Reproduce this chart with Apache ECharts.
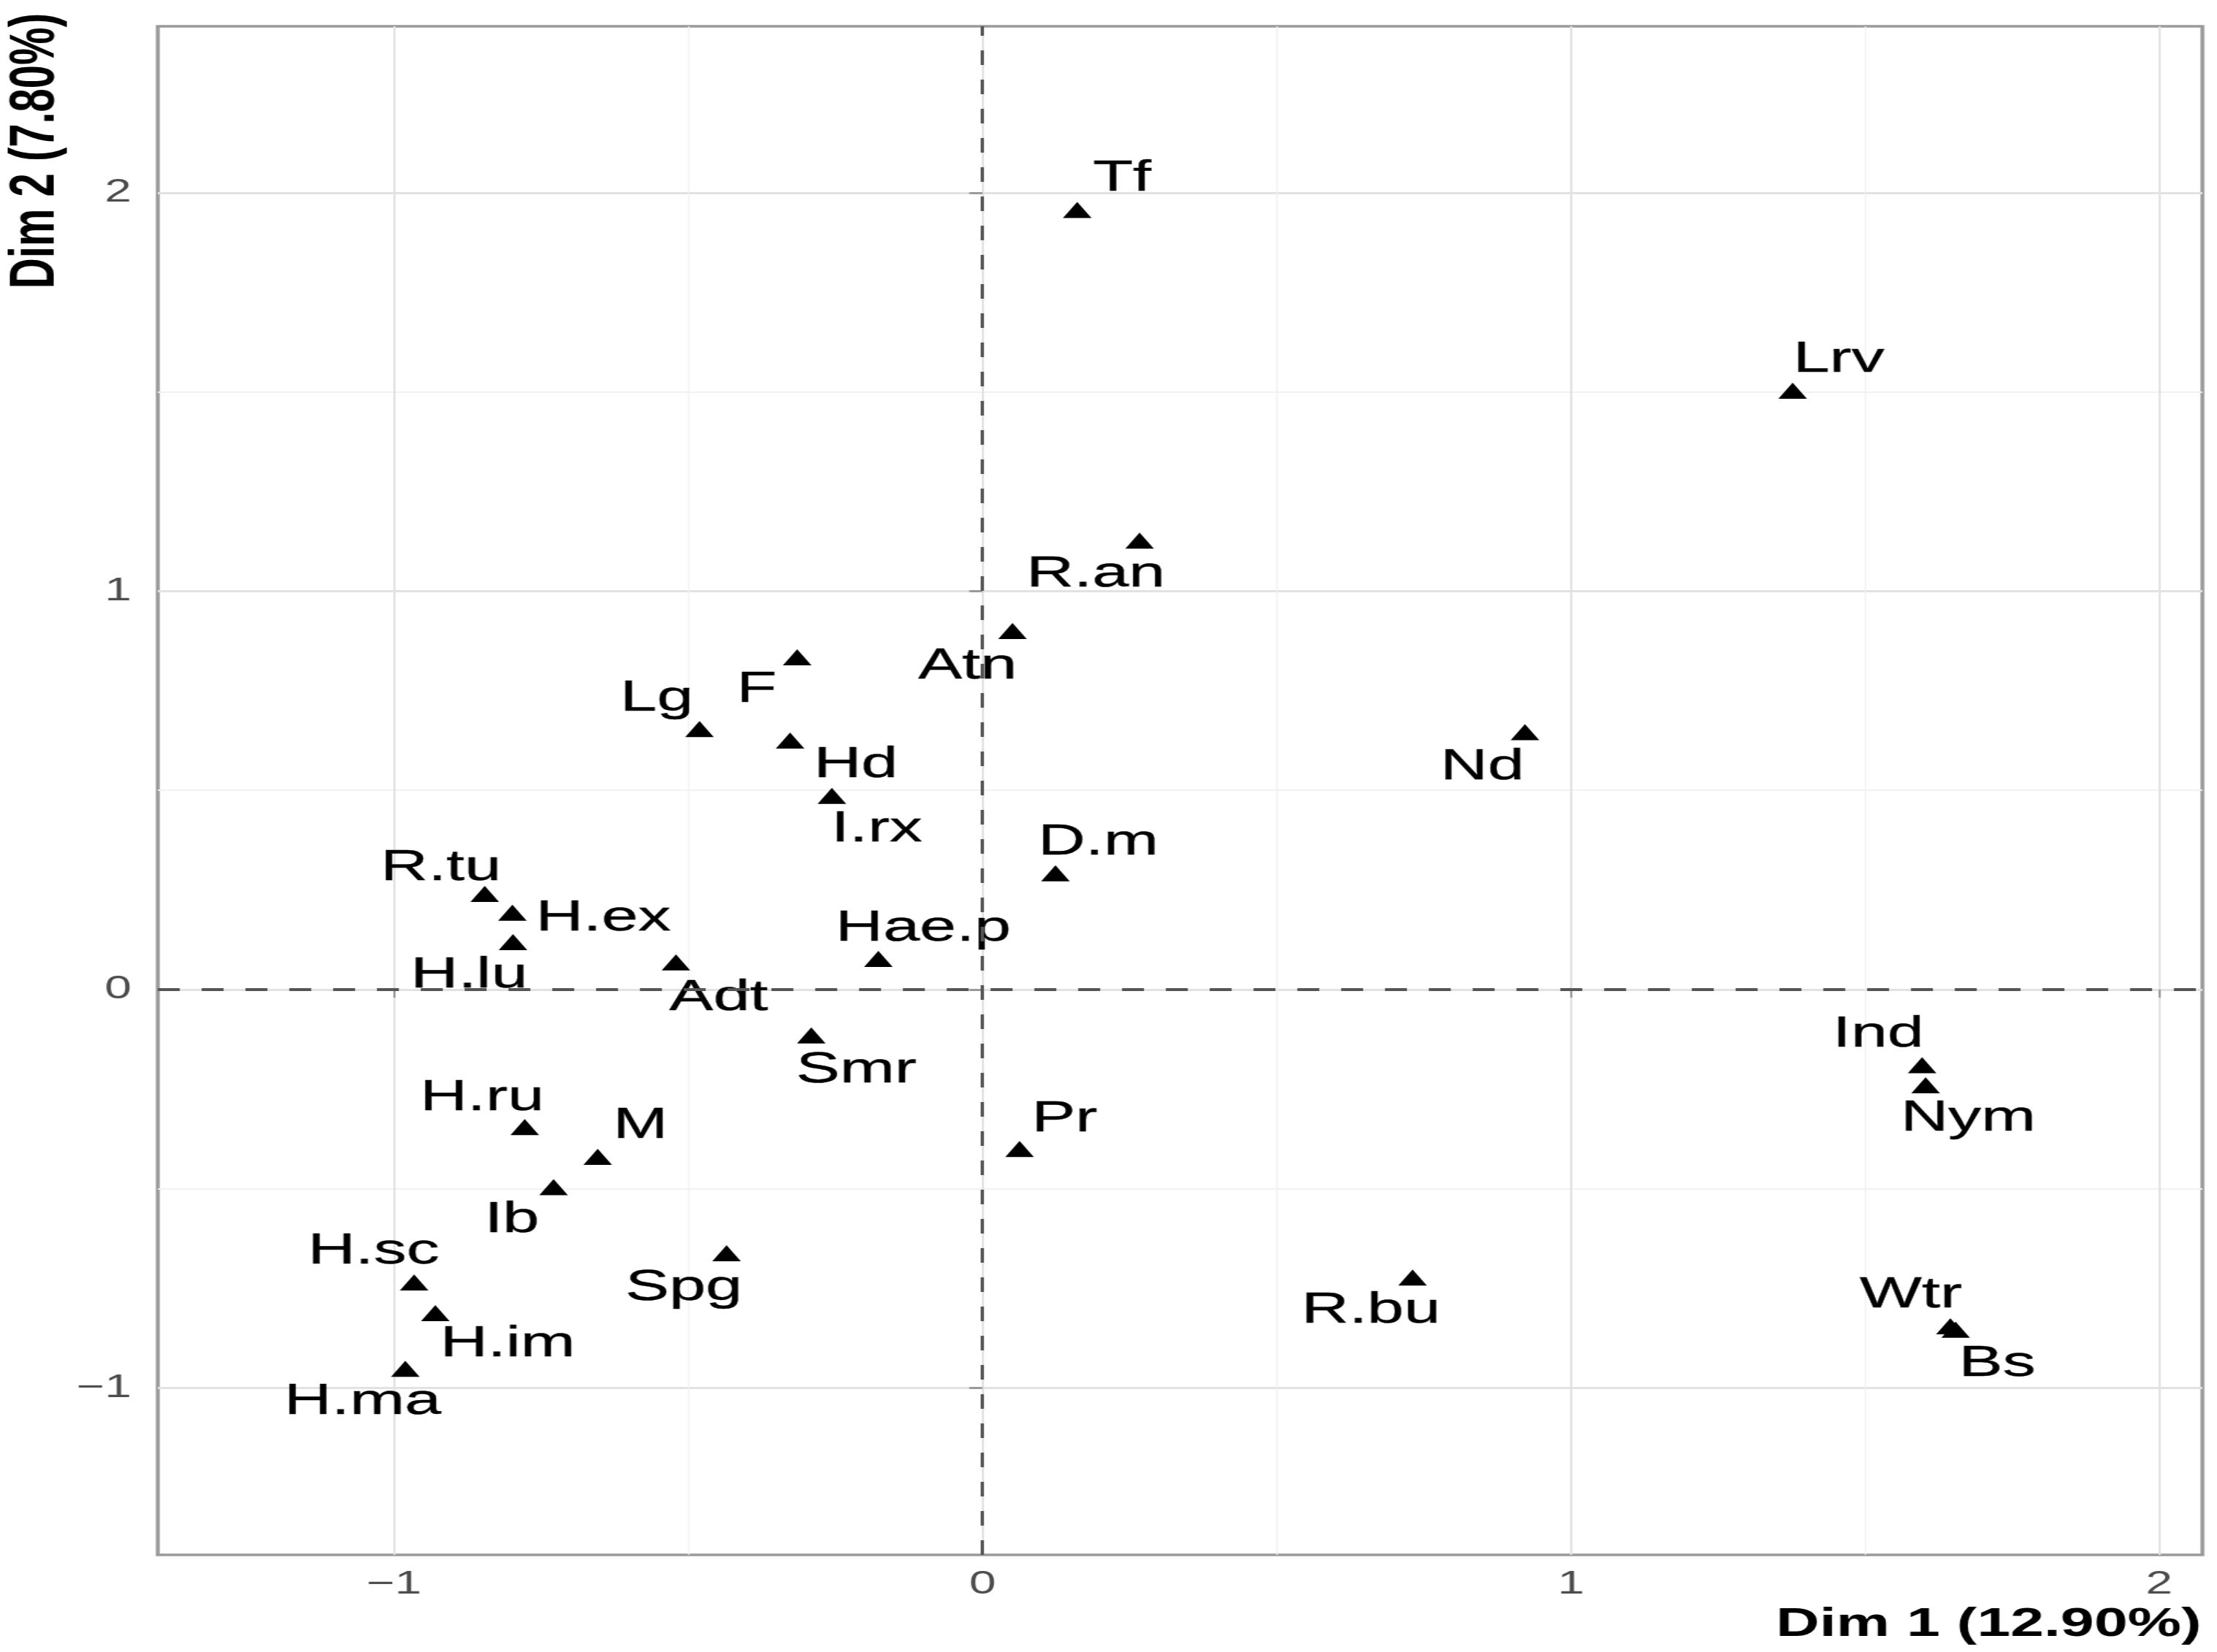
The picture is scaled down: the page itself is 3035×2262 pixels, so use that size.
<!DOCTYPE html>
<html>
<head>
<meta charset="utf-8">
<title>Dim 1 / Dim 2</title>
<script src="https://cdn.jsdelivr.net/npm/echarts@6.0.0/dist/echarts.min.js"></script>
<style>
    html, body {margin: 0; padding: 0; background: #fff; overflow: hidden;}
    /* the source figure is stretched sideways, so the chart is drawn narrow and widened */
    #main {width: 2023px; height: 2262px; transform: scaleX(1.5); transform-origin: 0 0;}
</style>
</head>
<body>
<div id="main"></div>
<script>
// point names
var names = ['Tf', 'Lrv', 'R.an', 'Atn', 'F', 'Lg', 'Hd', 'I.rx', 'Nd', 'D.m',
    'R.tu', 'H.ex', 'H.lu', 'Hae.p', 'Adt', 'Smr', 'Ind', 'Nym', 'H.ru', 'Pr',
    'M', 'Ib', 'Spg', 'R.bu', 'H.sc', 'Wtr', 'Bs', 'H.im', 'H.ma'];
// Dim 1 coordinates
var dim1 = [0.161, 1.377, 0.267, 0.051, -0.315, -0.481, -0.327, -0.256, 0.922, 0.124,
    -0.846, -0.799, -0.798, -0.177, -0.521, -0.291, 1.597, 1.603, -0.778, 0.063,
    -0.654, -0.729, -0.435, 0.731, -0.966, 1.645, 1.654, -0.930, -0.981];
// Dim 2 coordinates
var dim2 = [1.957, 1.503, 1.127, 0.900, 0.834, 0.654, 0.625, 0.486, 0.646, 0.292,
    0.240, 0.193, 0.119, 0.077, 0.068, -0.115, -0.190, -0.240, -0.345, -0.400,
    -0.420, -0.496, -0.662, -0.723, -0.735, -0.845, -0.854, -0.812, -0.952];
// tick values
var majorTicks = [-1, 0, 1, 2];
var minorTicks = [-0.5, 0.5, 1.5];
// axis titles
var xTitle = 'Dim 1 (12.90%)';
var yTitle = 'Dim 2 (7.80%)';

// label nudges in px (layout only)
var labelNudge = [[41, -43], [42, -43], [-40, 46], [-41, 48], [-37, 44], [-39, -42], [60, 33],
    [41, 46], [-39, 48], [39, -42], [-40, -36], [83, 8], [-40, 45], [41, -42], [39, 49],
    [41, 48], [-40, -42], [39, 46], [-39, -40], [41, -41], [39, -43], [-38, 45], [-39, 47],
    [-38, 45], [-37, -42], [-36, -42], [38, 47], [66, 43], [-39, 45]];

var xMin = -1.4017, xMax = 2.0734;
var yMin = -1.419, yMax = 2.418;

function fmt(v) {
    return String(v).replace('-', '\u2212');
}

var pts = [];
for (var i = 0; i < names.length; i++) {
    pts.push({
        name: names[i],
        value: [dim1[i], dim2[i]],
        label: {offset: labelNudge[i]}
    });
}

var myChart = echarts.init(document.getElementById('main'));
var option = {
    animation: false,
    backgroundColor: '#ffffff',
    grid: {
        left: 144, right: 13, top: 36, bottom: 133,
        show: true, borderColor: '#9a9a9a', borderWidth: 3.5, backgroundColor: '#ffffff'
    },
    // axis titles
    graphic: [
        {
            type: 'text', x: 2009, y: 2225, z: 100,
            style: {
                text: xTitle, font: 'bold 55px "Liberation Sans"', fill: '#000',
                align: 'right', verticalAlign: 'middle',
                textAlign: 'right', textVerticalAlign: 'middle'
            }
        },
        {
            type: 'text', x: 33, y: 18, rotation: Math.PI / 2, z: 100,
            style: {
                text: yTitle, font: 'bold 58px "Liberation Sans"', fill: '#000',
                align: 'right', verticalAlign: 'middle',
                textAlign: 'right', textVerticalAlign: 'middle'
            }
        }
    ],
    xAxis: [
        {
            type: 'value', min: xMin, max: xMax, position: 'bottom',
            axisLine: {show: false},
            axisTick: {show: true, length: 11, customValues: majorTicks,
                lineStyle: {color: '#9a9a9a', width: 2}},
            axisLabel: {customValues: majorTicks, margin: 19, formatter: fmt,
                fontFamily: 'Liberation Sans', fontSize: 44, color: '#4d4d4d'},
            splitLine: {show: true, lineStyle: {color: '#e2e2e2', width: 2}}
        },
        {
            type: 'value', min: xMin, max: xMax, position: 'top',
            axisLine: {show: false},
            axisTick: {show: false, customValues: minorTicks},
            axisLabel: {show: false},
            splitLine: {show: true, lineStyle: {color: '#f1f1f1', width: 1.3}}
        }
    ],
    yAxis: [
        {
            type: 'value', min: yMin, max: yMax, position: 'left',
            axisLine: {show: false},
            axisTick: {show: true, length: 12, customValues: majorTicks,
                lineStyle: {color: '#9a9a9a', width: 3}},
            axisLabel: {customValues: majorTicks, margin: 24, formatter: fmt,
                fontFamily: 'Liberation Sans', fontSize: 44, color: '#4d4d4d'},
            splitLine: {show: true, lineStyle: {color: '#e2e2e2', width: 3}}
        },
        {
            type: 'value', min: yMin, max: yMax, position: 'right',
            axisLine: {show: false},
            axisTick: {show: false, customValues: minorTicks},
            axisLabel: {show: false},
            splitLine: {show: true, lineStyle: {color: '#f1f1f1', width: 2}}
        }
    ],
    series: [
        {
            type: 'scatter',
            xAxisIndex: 0, yAxisIndex: 0,
            symbol: 'triangle',
            symbolSize: [26, 22],
            itemStyle: {color: '#000000', opacity: 1},
            label: {
                show: true, position: 'inside',
                formatter: '{b}',
                fontFamily: 'Liberation Sans', fontSize: 60, color: '#000000',
                textBorderColor: '#000000', textBorderWidth: 0.4
            },
            data: pts,
            markLine: {
                silent: true, symbol: 'none', animation: false,
                label: {show: false},
                lineStyle: {color: '#555555', type: [20, 20], width: 3},
                data: [
                    {xAxis: 0, lineStyle: {width: 3}},
                    {yAxis: 0, lineStyle: {width: 4}}
                ]
            }
        }
    ]
};
myChart.setOption(option);
</script>
</body>
</html>
